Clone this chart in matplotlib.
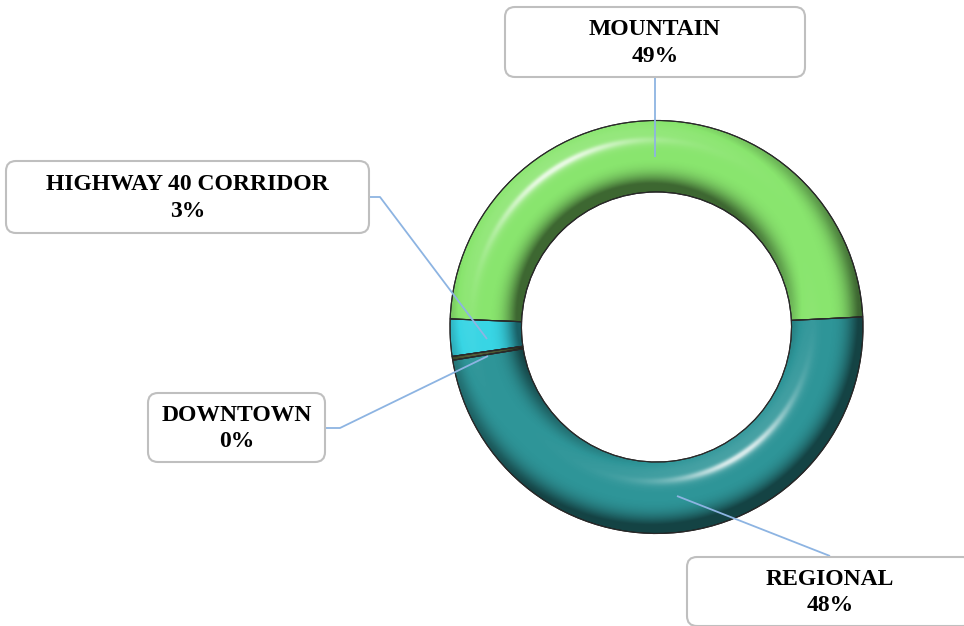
import numpy as np
import matplotlib.pyplot as plt
from matplotlib.patches import FancyBboxPatch, Wedge

W_PX, H_PX = 964, 626

regions = ['MOUNTAIN', 'HIGHWAY 40 CORRIDOR', 'DOWNTOWN', 'REGIONAL']
shares = [48.6, 2.9, 0.3, 48.2]
colors = ['#89E56E', '#38D5E4', '#4E5B35', '#2E9598']

# ring geometry (pixels, y measured from the top)
cx, cy_top = 656.5, 327
R_OUT, R_IN = 206.5, 135.0


def fy(y):
    return H_PX - y


cy = fy(cy_top)

fig = plt.figure(figsize=(W_PX / 100, H_PX / 100), dpi=100)
ax = fig.add_axes([0, 0, 1, 1])

wedges, _ = ax.pie(shares, colors=colors, startangle=2.8, counterclock=True,
                   center=(cx, cy), radius=R_OUT,
                   wedgeprops=dict(width=R_OUT - R_IN, edgecolor='#2a2a2a',
                                   linewidth=0.8))

# tube shading: simple diffuse + specular on a rounded ring profile
n = 900
xs = np.linspace(cx - R_OUT, cx + R_OUT, n)
ys = np.linspace(cy - R_OUT, cy + R_OUT, n)
X, Y = np.meshgrid(xs, ys)
dx, dy = X - cx, Y - cy
r = np.hypot(dx, dy) + 1e-9
t = np.clip((r - R_IN) / (R_OUT - R_IN), 0, 1)
ux, uy = dx / r, dy / r
nr = np.sin((t - 0.5) * np.pi)
nr = np.sign(nr) * np.abs(nr) ** 2.6 * 0.95
nz = np.sqrt(1 - nr ** 2)
nx, ny = nr * ux, nr * uy

L = np.array([-0.35, 0.55, 0.76])
L /= np.linalg.norm(L)
Hv = L + np.array([0, 0, 1.0])
Hv /= np.linalg.norm(Hv)
diff = nx * L[0] + ny * L[1] + nz * L[2]
spec = np.clip(nx * Hv[0] + ny * Hv[1] + nz * Hv[2], 0, 1) ** 80

dark = np.zeros((n, n, 4))
dark[..., 3] = np.clip((L[2] - diff) * 0.75, 0, 0.55)
light = np.ones((n, n, 4))
light[..., 3] = np.clip(spec * 0.75 + np.clip(diff - L[2], 0, 1) * 0.5, 0, 0.8)

ring = Wedge((cx, cy), R_OUT, 0, 360, width=R_OUT - R_IN, transform=ax.transData)
for img in (dark, light):
    im = ax.imshow(img, extent=(cx - R_OUT, cx + R_OUT, cy - R_OUT, cy + R_OUT),
                   origin='lower', interpolation='bilinear', zorder=2)
    im.set_clip_path(ring)

# outline on top of the shading
for w in wedges:
    ax.add_patch(Wedge(w.center, w.r, w.theta1, w.theta2, width=w.width,
                       fill=False, ec='#2a2a2a', lw=0.8, zorder=3))

# label boxes: (left, top, right, bottom) and leader line points
boxes = {
    'MOUNTAIN': ((505, 7, 805, 77), [(655, 77), (655, 157)]),
    'HIGHWAY 40 CORRIDOR': ((6, 161, 369, 233), [(369, 197), (380, 197), (487, 339)]),
    'DOWNTOWN': ((148, 393, 325, 462), [(325, 428), (340, 428), (488, 356)]),
    'REGIONAL': ((687, 557, 973, 626), [(830, 556), (677, 496)]),
}

for name, val in zip(regions, shares):
    (x0, y0, x1, y1), pts = boxes[name]
    px = [p[0] for p in pts]
    py = [fy(p[1]) for p in pts]
    ax.plot(px, py, color='#8DB4E2', lw=1.3, zorder=4, solid_capstyle='butt')
    ax.add_patch(FancyBboxPatch((x0, fy(y1)), x1 - x0, y1 - y0,
                                boxstyle='round,pad=0,rounding_size=10',
                                fc='white', ec='#BFBFBF', lw=1.5, zorder=5))
    ax.text((x0 + x1) / 2, fy((y0 + y1) / 2) - 1, f'{name}\n{val:.0f}%',
            ha='center', va='center', fontsize=17, fontweight='bold',
            family='Liberation Serif', linespacing=1.35, zorder=6)

ax.set_xlim(0, W_PX)
ax.set_ylim(0, H_PX)
ax.set_aspect('auto')
ax.axis('off')

fig.savefig('out.png', dpi=100)
